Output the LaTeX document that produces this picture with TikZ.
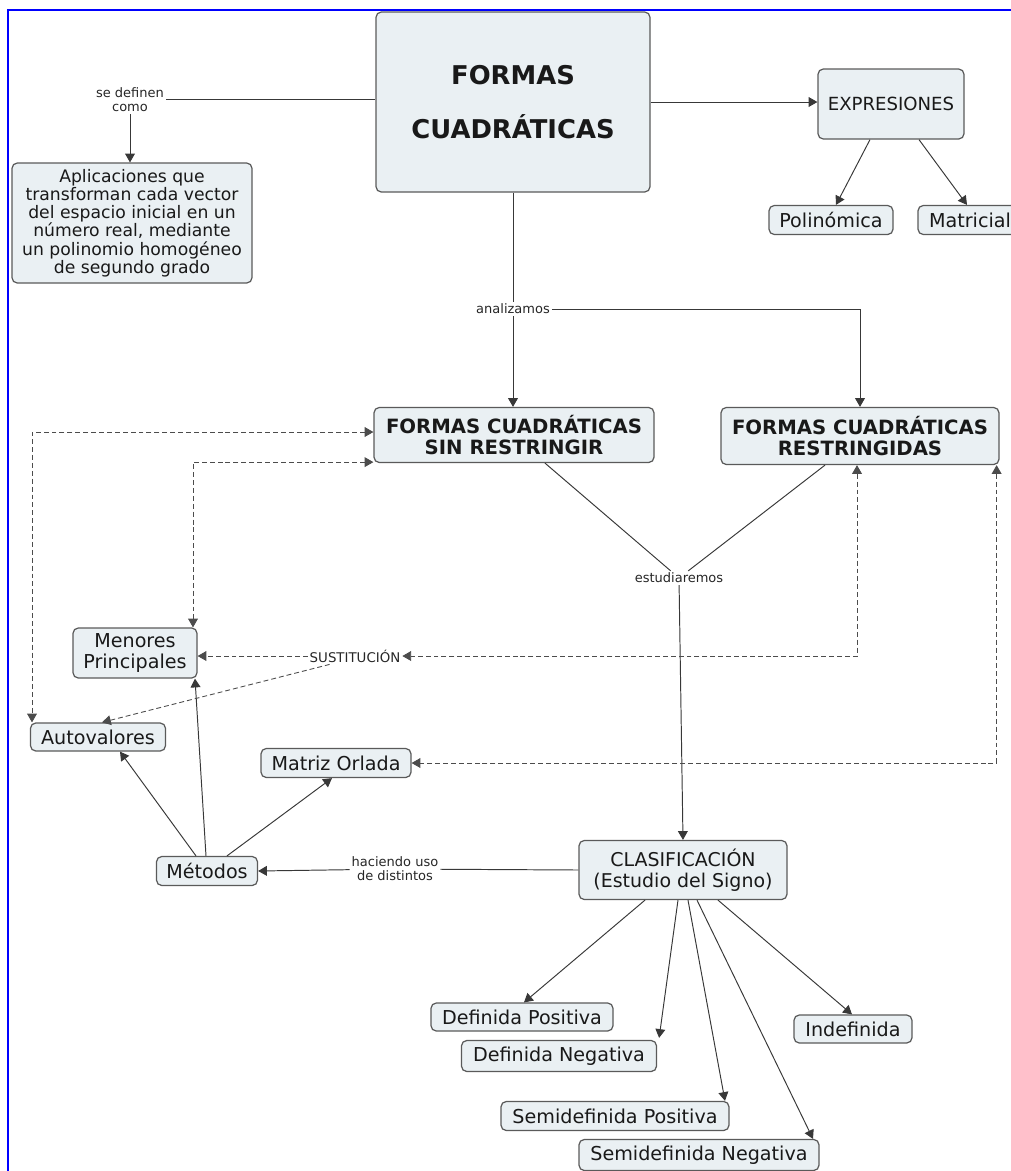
\documentclass[tikz,border=0pt]{standalone}
\usepackage{fontspec}
\setmainfont{DejaVu Sans}
\usetikzlibrary{arrows.meta,calc}

\definecolor{cajafondo}{HTML}{EAF0F3}
\definecolor{cajaborde}{HTML}{5A5A5A}
\definecolor{linea}{HTML}{383838}

\tikzset{
  punta/.tip={Triangle[length=5pt,width=5.6pt]},
  concepto/.style={draw=cajaborde, fill=cajafondo, rounded corners=3pt, line width=0.7pt,
    inner sep=0pt, align=center, text=black!90, font=\fontsize{10.9}{11.7}\selectfont},
  tam/.style 2 args={minimum width=#1*0.02cm, minimum height=#2*0.02cm},
  frase/.style={inner sep=1pt, align=center, text=black!85, font=\fontsize{7.4}{8}\selectfont},
  enlace/.style={draw=linea, line width=0.55pt},
  flecha/.style={enlace, -punta},
  discont/.style={enlace, draw=black!70, line width=0.5pt, punta-punta, dash pattern=on 2.8pt off 1.7pt},
  discontuna/.style={enlace, draw=black!70, line width=0.5pt, -punta, dash pattern=on 2.8pt off 1.7pt},
}

\begin{document}
\begin{tikzpicture}[x=0.02cm, y=-0.02cm]
    \useasboundingbox (0,0) rectangle (1011,1171);
    \draw[blue, line width=1.1pt] (8,1171) -- (8,10) -- (1011,10);

    % Draw nodes
    \node[concepto, tam={274}{180}, font=\bfseries\fontsize{14.7}{30.6}\selectfont] (fq) at (513,102) {FORMAS\\CUADRÁTICAS};
    \node[concepto, tam={240}{120}, font=\fontsize{9.8}{10.4}\selectfont] (apl) at (132,223)
        {Aplicaciones que\\transforman cada vector\\del espacio inicial en un\\número real, mediante\\un polinomio homogéneo\\de segundo grado};
    \node[concepto, tam={146}{70}, font=\fontsize{10.3}{11}\selectfont] (expr) at (891,104) {EXPRESIONES};
    \node[concepto, tam={124}{29}] (pol) at (831,220) {Polinómica};
    \node[concepto, tam={104}{29}] (mat) at (970,220) {Matricial};
    \node[concepto, tam={280}{55}, font=\bfseries\fontsize{11.2}{12.5}\selectfont] (sin) at (514,435) {FORMAS CUADRÁTICAS\\SIN RESTRINGIR};
    \node[concepto, tam={278}{57}, font=\bfseries\fontsize{11.2}{12.5}\selectfont] (res) at (860,436) {FORMAS CUADRÁTICAS\\RESTRINGIDAS};
    \node[concepto, tam={208}{59}, font=\fontsize{10.8}{12}\selectfont] (clas) at (683,870) {CLASIFICACIÓN\\(Estudio del Signo)};
    \node[concepto, tam={101}{29}] (met) at (207,871) {Métodos};
    \node[concepto, tam={135}{28}] (aut) at (98,737) {Autovalores};
    \node[concepto, tam={124}{50}] (men) at (135,653) {Menores\\Principales};
    \node[concepto, tam={150}{29}] (orl) at (336,763) {Matriz Orlada};
    \node[concepto, tam={182}{28}] (dp) at (522,1017) {Definida Positiva};
    \node[concepto, tam={195}{31}] (dn) at (559,1056) {Definida Negativa};
    \node[concepto, tam={228}{29}] (sp) at (615,1116) {Semidefinida Positiva};
    \node[concepto, tam={240}{31}] (sn) at (699,1155) {Semidefinida Negativa};
    \node[concepto, tam={118}{28}] (ind) at (853,1029) {Indefinida};

    % Linking phrases
    \node[frase] (lse) at (130,100) {se definen\\como};
    \node[frase] (lana) at (513,309) {analizamos};
    \node[frase] (lest) at (679,578) {estudiaremos};
    \node[frase, font=\fontsize{7.6}{8}\selectfont] (lsus) at (355,656) {SUSTITUCIÓN};
    \node[frase] (lhac) at (395,869) {haciendo uso\\de distintos};

    % Draw connections
    \draw[enlace] (lse.east |- 0,99) -- (fq.west |- 0,99);
    \draw[flecha] (lse.south) -- (lse.south |- apl.north);
    \draw[flecha] (fq.east) -- (expr.west |- fq.east);
    \draw[flecha] ($(expr.south)+(-21,0)$) -- ($(pol.north)+(5,0)$);
    \draw[flecha] ($(expr.south)+(28,0)$) -- ($(mat.north)+(-3,0)$);

    \draw[enlace] (fq.south) -- (lana);
    \draw[flecha] (lana) -- (lana |- sin.north);
    \draw[flecha] (lana.east) -- (lana.east -| res.north) -- (res.north);

    \draw[enlace] ($(sin.south)+(31,0)$) -- (lest);
    \draw[enlace] ($(res.south)+(-35,0)$) -- (lest);
    \draw[flecha] (lest) -- (clas.north);

    \draw[enlace] (clas.west) -- (lhac);
    \draw[flecha] (lhac) -- (met.east);
    \draw[flecha] ($(met.north)+(-11,0)$) -- ($(aut.south)+(22,0)$);
    \draw[flecha] ($(met.north)+(-1,0)$) -- ($(men.south)+(60,0)$);
    \draw[flecha] ($(met.north)+(20,0)$) -- ($(orl.south)+(-4,0)$);

    \draw[flecha] ($(clas.south)+(-38,0)$) -- ($(dp.north)+(2,0)$);
    \draw[flecha] ($(clas.south)+(-5,0)$) -- ($(dn.north east)+(2,-2)$);
    \draw[flecha] ($(clas.south)+(5,0)$) -- ($(sp.north)+(110,0)$);
    \draw[flecha] ($(clas.south)+(14,0)$) -- ($(sn.north)+(114,0)$);
    \draw[flecha] ($(clas.south)+(35,0)$) -- ($(ind.north)+(-1,0)$);

    % Dashed connections
    \draw[discont] ($(sin.west)+(0,-3)$) -| ($(aut.north)+(-66,0)$);
    \draw[discont] ($(sin.south west)+(0,-1)$) -| ($(men.north)+(58,0)$);
    \draw[discont] ($(res.south)+(-3,0)$) |- (lsus.east);
    \draw[discont] ($(res.south east)+(-3,0)$) |- (orl.east);
    \draw[discontuna] (lsus.west) -- (men.east |- lsus.west);
    \draw[discontuna] ($(lsus.south west)+(22,0)$) -- ($(aut.north)+(4,0)$);
\end{tikzpicture}
\end{document}
